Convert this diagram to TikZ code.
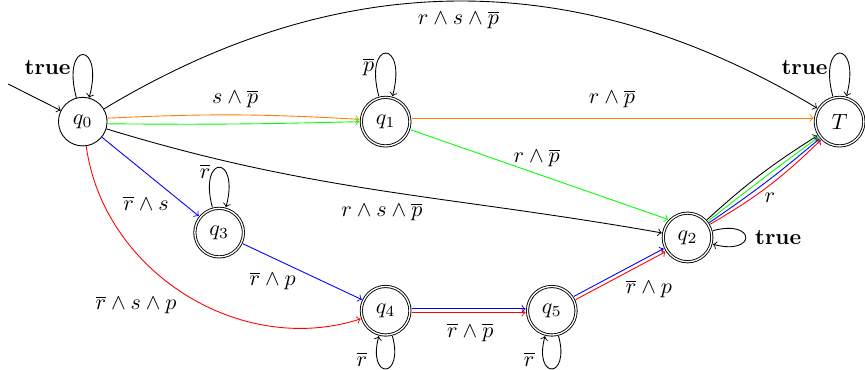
\documentclass[tikz,border=0pt]{standalone}
\begin{document}
\begin{tikzpicture}[>=to,
  st/.style={circle, draw, minimum size=0.775cm, inner sep=0pt},
  acc/.style={st, double, double distance=0.6pt, outer sep=0.9pt},
  lbl/.style={inner sep=0pt},
  lpa/.style={out=105, in=75, looseness=1, min distance=#1},
  lpb/.style={out=285, in=255, looseness=1, min distance=#1},
  lpr/.style={out=15, in=-15, looseness=1, min distance=#1}]
\useasboundingbox (-1.32,-3.96) rectangle (12.475,1.94);
% states
\node[st]  (q0) at (0,0) {$q_0$};
\node[acc] (q1) at (4.83,0) {$q_1$};
\node[acc] (T)  at (12.07,0) {$T$};
\node[acc] (q3) at (2.175,-1.77) {$q_3$};
\node[acc] (q2) at (9.645,-1.847) {$q_2$};
\node[acc] (q4) at (4.83,-3.016) {$q_4$};
\node[acc] (q5) at (7.48,-3.016) {$q_5$};
\coordinate (init) at (-1.19,0.60);
% edges
\draw[->] (init) -- (q0);
\draw[->] (q0) to[lpa=27pt] (q0);
\draw[->] (q1) to[lpa=27pt] (q1);
\draw[->] (T)  to[lpa=27pt] (T);
\draw[->] (q3) to[lpa=25pt] (q3);
\draw[->] (q2) to[lpr=20.5pt] (q2);
\draw[->] (q4) to[lpb=20.5pt] (q4);
\draw[->] (q5) to[lpb=20.5pt] (q5);
\draw[->] (q0) to[bend left=31] (T);
\draw[->,orange] (q0.8) to[bend left=3] (q1.175);
\draw[->,green] (q0.-5) to[bend right=1] (q1.180);
\draw[->,orange] (q1.8) -- (T.172);
\draw[->,green] (q1.-18) -- (q2.137);
\draw[->] (q0) to[out=-17,in=170] (q2);
\draw[->,blue] (q0) -- (q3);
\draw[->,blue] (q3) -- (q4);
\draw[->,red] (q0) to[bend right=50] (q4);
\draw[->,blue] (q4.4) -- (q5.176);
\draw[->,red] (q4.-4) -- (q5.-176);
\draw[->,blue] (q5.33) -- (q2.205);
\draw[->,red] (q5.25) -- (q2.213);
\draw[->] (q2) to[bend left=5] (T);
\draw[->,green] (q2) to[bend left=1] (T);
\draw[->,blue] (q2) to[bend right=3] (T);
\draw[->,red] (q2) to[bend right=7] (T);
% labels
\node[lbl] (t0) at (-0.56,0.86) {$\mathbf{true}$};
\node[lbl] (t1) at (4.56,0.87) {$\overline{p}$};
\node[lbl] (tT) at (11.51,0.86) {$\mathbf{true}$};
\node[lbl] (t3) at (1.95,-0.79) {$\overline{r}$};
\node[lbl] (t2) at (11.09,-1.84) {$\mathbf{true}$};
\node[lbl] (t4) at (4.45,-3.79) {$\overline{r}$};
\node[lbl] (t5) at (7.12,-3.79) {$\overline{r}$};
\node[lbl] (e0T) at (5.99,1.62) {$r\land s\land\overline{p}$};
\node[lbl] (e01) at (2.43,0.36) {$s\land\overline{p}$};
\node[lbl] (e1T) at (8.44,0.36) {$r\land\overline{p}$};
\node[lbl] (e12) at (7.24,-0.58) {$r\land\overline{p}$};
\node[lbl] (e02) at (4.77,-1.44) {$r\land s\land\overline{p}$};
\node[lbl] (e03) at (1.01,-1.30) {$\overline{r}\land s$};
\node[lbl] (e34) at (3.03,-2.54) {$\overline{r}\land p$};
\node[lbl] (e04) at (0.85,-2.92) {$\overline{r}\land s\land p$};
\node[lbl] (e45) at (6.18,-3.36) {$\overline{r}\land\overline{p}$};
\node[lbl] (e52) at (9.03,-2.67) {$\overline{r}\land p$};
\node[lbl] (e2T) at (10.96,-1.22) {$r$};
\end{tikzpicture}
\end{document}
